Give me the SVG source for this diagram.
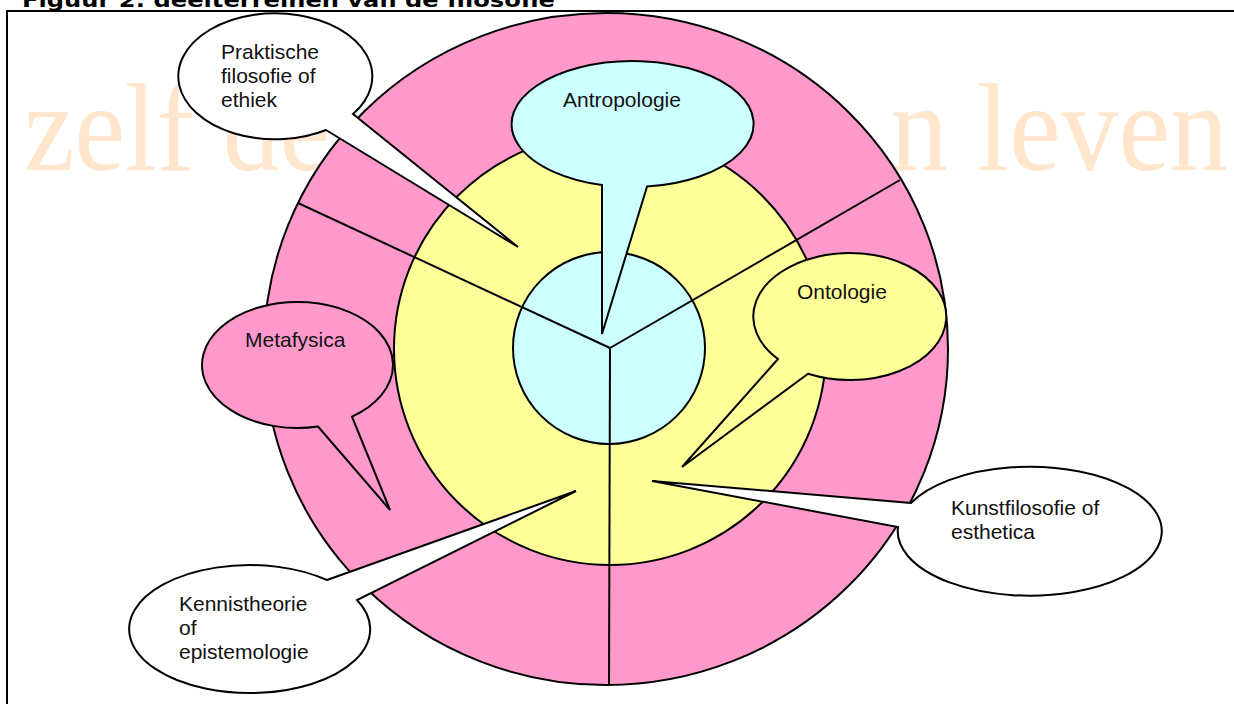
<svg xmlns="http://www.w3.org/2000/svg" width="1234" height="704" viewBox="0 0 1234 704">
  <style>
    .ring { stroke: #000; stroke-width: 2; }
    .div { stroke: #000; stroke-width: 2; fill: none; stroke-linecap: butt; }
    .bubble { stroke: #000; stroke-width: 2; stroke-linejoin: miter; }
    .lbl { font-family: "Liberation Sans", Arial, sans-serif; font-size: 21px; fill: #111; }
    .wm { font-family: "Liberation Serif", "Times New Roman", serif; font-size: 125px; fill: #FFE6CC; }
    .title { font-family: "DejaVu Sans", Verdana, sans-serif; font-size: 20px; font-weight: bold; fill: #000; }
  </style>

  <rect x="0" y="0" width="1234" height="704" fill="#fff"/>

  <!-- heading, clipped at the top edge -->
  <g id="title">
    <text class="title" x="22" y="7" textLength="533" lengthAdjust="spacingAndGlyphs">Figuur 2: deelterreinen van de filosofie</text>
  </g>

  <!-- frame -->
  <g id="frame">
    <rect x="7" y="11" width="1300" height="800" fill="none" stroke="#000" stroke-width="2"/>
  </g>

  <!-- background watermark -->
  <g id="watermark">
    <text class="wm" x="24" y="170" textLength="306" lengthAdjust="spacingAndGlyphs">zelf de</text>
    <text class="wm" x="890" y="170" textLength="338" lengthAdjust="spacingAndGlyphs">n leven</text>
  </g>

  <!-- concentric areas -->
  <g id="rings">
    <ellipse id="outer-ring" class="ring" cx="606" cy="349" rx="342" ry="336" fill="#FF99CC"/>
    <circle id="middle-ring" class="ring" cx="610" cy="349" r="216" fill="#FFFF99"/>
    <circle id="core" class="ring" cx="609" cy="348" r="96" fill="#CCFFFF"/>
  </g>

  <!-- dividing lines from the centre -->
  <g id="connectors">
    <line class="div" x1="610" y1="348" x2="609" y2="684"/>
    <line class="div" x1="610" y1="348" x2="298" y2="203"/>
    <line class="div" x1="610" y1="348" x2="900" y2="180"/>
  </g>

  <!-- speech-bubble labels -->
  <g id="praktische-filosofie">
    <path class="bubble" fill="#FFFFFF" d="M 326 130 L 518 247 L 353 114 A 97 63 0 1 0 326 130 Z"/>
    <text class="lbl" x="221" y="59">Praktische</text>
    <text class="lbl" x="221" y="83">filosofie of</text>
    <text class="lbl" x="221" y="107">ethiek</text>
  </g>

  <g id="antropologie">
    <path class="bubble" fill="#CCFFFF" d="M 602 185 L 602 334 L 647 186.6 A 121 63 0 1 0 602 185 Z"/>
    <text class="lbl" x="563" y="107">Antropologie</text>
  </g>

  <g id="ontologie">
    <path class="bubble" fill="#FFFF99" d="M 778 359 L 682 467 L 808 373.8 A 96.5 63.5 0 1 0 778 359 Z"/>
    <text class="lbl" x="797" y="299">Ontologie</text>
  </g>

  <g id="metafysica">
    <path class="bubble" fill="#FF99CC" d="M 318 426.5 L 390 510 L 352 416.7 A 95.5 63 0 1 0 318 426.5 Z"/>
    <text class="lbl" x="245" y="347">Metafysica</text>
  </g>

  <g id="kennistheorie">
    <path class="bubble" fill="#FFFFFF" d="M 327 580 L 576 491 L 357 600 A 120.5 64 0 1 1 327 580 Z"/>
    <text class="lbl" x="179" y="611">Kennistheorie</text>
    <text class="lbl" x="179" y="635">of</text>
    <text class="lbl" x="179" y="659">epistemologie</text>
  </g>

  <g id="kunstfilosofie">
    <path class="bubble" fill="#FFFFFF" d="M 911 503 L 652 481 L 898 527 A 132 64.5 0 1 0 911 503 Z"/>
    <text class="lbl" x="951" y="515">Kunstfilosofie of</text>
    <text class="lbl" x="951" y="539">esthetica</text>
  </g>
</svg>
